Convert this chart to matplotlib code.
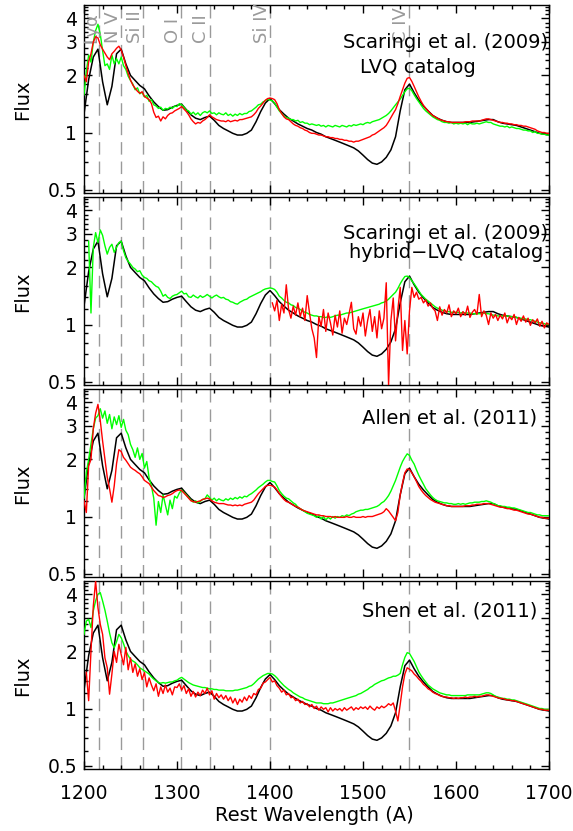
import numpy as np
import matplotlib
matplotlib.use("Agg")
import matplotlib.pyplot as plt
import matplotlib.transforms as mtransforms
from matplotlib.ticker import FixedLocator, FixedFormatter, NullFormatter

# wavelength grids (Angstrom)
wave = np.arange(1200, 1700.1, 2.5)
wave_bal = np.arange(1200, 1700.1, 5.0)

# reference BAL composite (black), same in every panel
bal_flux = [
    1.25, 1.90, 2.50, 2.75, 1.85, 1.40, 1.75, 2.60, 2.75, 2.30,
    2.00, 1.88, 1.77, 1.70, 1.56, 1.45, 1.37, 1.31, 1.32, 1.36,
    1.39, 1.41, 1.32, 1.24, 1.19, 1.17, 1.20, 1.22, 1.16, 1.09,
    1.05, 1.02, 0.99, 0.97, 0.97, 0.99, 1.03, 1.14, 1.29, 1.43,
    1.51, 1.42, 1.32, 1.25, 1.19, 1.15, 1.11, 1.08, 1.05, 1.03,
    1.00, 0.98, 0.95, 0.93, 0.91, 0.89, 0.87, 0.85, 0.83, 0.80,
    0.76, 0.72, 0.69, 0.68, 0.70, 0.74, 0.81, 0.95, 1.30, 1.68,
    1.80, 1.62, 1.48, 1.38, 1.30, 1.23, 1.19, 1.16, 1.14, 1.13,
    1.13, 1.13, 1.13, 1.13, 1.14, 1.15, 1.16, 1.17, 1.17, 1.14,
    1.12, 1.11, 1.10, 1.09, 1.07, 1.05, 1.03, 1.01, 0.99, 0.98,
    0.97,
]

nan = np.nan

# Scaringi et al. (2009) LVQ
green_lvq = [
    1.58, 2.10, 2.56, 2.35, 3.00, 3.45, 3.72, 3.30, 2.70, 2.25,
    2.30, 2.15, 2.56, 2.30, 2.45, 2.30, 2.50, 2.25, 2.15, 1.98,
    1.88, 1.80, 1.68, 1.72, 1.60, 1.63, 1.54, 1.57, 1.46, 1.49,
    1.40, 1.38, 1.34, 1.36, 1.31, 1.34, 1.33, 1.36, 1.34, 1.38,
    1.37, 1.42, 1.40, 1.36, 1.31, 1.30, 1.25, 1.28, 1.24, 1.27,
    1.23, 1.27, 1.29, 1.27, 1.30, 1.26, 1.27, 1.24, 1.27, 1.25,
    1.24, 1.27, 1.23, 1.25, 1.22, 1.25, 1.23, 1.26, 1.24, 1.26,
    1.26, 1.29, 1.30, 1.33, 1.36, 1.40, 1.41, 1.45, 1.47, 1.50,
    1.48, 1.47, 1.43, 1.36, 1.30, 1.26, 1.22, 1.20, 1.19, 1.17,
    1.17, 1.15, 1.16, 1.13, 1.14, 1.12, 1.12, 1.10, 1.11, 1.10,
    1.09, 1.10, 1.08, 1.09, 1.07, 1.09, 1.08, 1.07, 1.09, 1.08,
    1.07, 1.09, 1.08, 1.07, 1.09, 1.08, 1.10, 1.09, 1.10, 1.11,
    1.10, 1.12, 1.13, 1.12, 1.14, 1.15, 1.16, 1.17, 1.19, 1.21,
    1.23, 1.26, 1.30, 1.35, 1.40, 1.45, 1.50, 1.57, 1.64, 1.70,
    1.71, 1.66, 1.58, 1.51, 1.45, 1.39, 1.34, 1.30, 1.27, 1.24,
    1.21, 1.19, 1.17, 1.16, 1.14, 1.13, 1.13, 1.12, 1.13, 1.11,
    1.12, 1.11, 1.12, 1.11, 1.12, 1.10, 1.12, 1.11, 1.11, 1.12,
    1.11, 1.12, 1.13, 1.14, 1.13, 1.13, 1.11, 1.10, 1.09, 1.08,
    1.08, 1.07, 1.08, 1.06, 1.07, 1.06, 1.05, 1.05, 1.04, 1.03,
    1.03, 1.02, 1.02, 1.00, 1.01, 0.99, 0.99, 0.98, 0.98, 0.97,
    0.97,
]
red_lvq = [
    2.00, 1.85, 2.36, 2.60, 3.00, 3.20, 3.15, 2.90, 2.75, 2.62,
    2.50, 2.42, 2.60, 2.68, 2.78, 2.85, 2.72, 2.50, 2.25, 2.05,
    1.89, 1.78, 1.71, 1.65, 1.61, 1.64, 1.55, 1.52, 1.49, 1.42,
    1.28, 1.20, 1.22, 1.15, 1.21, 1.18, 1.23, 1.26, 1.27, 1.30,
    1.32, 1.34, 1.37, 1.33, 1.29, 1.24, 1.18, 1.14, 1.11, 1.13,
    1.12, 1.15, 1.17, 1.20, 1.24, 1.21, 1.19, 1.17, 1.16, 1.15,
    1.15, 1.14, 1.16, 1.14, 1.15, 1.16, 1.15, 1.17, 1.17, 1.18,
    1.19, 1.20, 1.21, 1.24, 1.28, 1.34, 1.38, 1.43, 1.48, 1.51,
    1.52, 1.51, 1.49, 1.42, 1.32, 1.26, 1.21, 1.18, 1.17, 1.14,
    1.11, 1.09, 1.08, 1.06, 1.05, 1.03, 1.02, 1.00, 0.99, 0.99,
    0.98, 0.97, 0.97, 0.96, 0.95, 0.95, 0.94, 0.94, 0.93, 0.93,
    0.92, 0.92, 0.91, 0.91, 0.90, 0.90, 0.89, 0.90, 0.90, 0.91,
    0.92, 0.93, 0.94, 0.95, 0.97, 0.98, 1.00, 1.02, 1.04, 1.06,
    1.09, 1.14, 1.20, 1.26, 1.32, 1.42, 1.55, 1.68, 1.82, 1.93,
    1.95, 1.86, 1.75, 1.64, 1.54, 1.46, 1.39, 1.34, 1.30, 1.26,
    1.23, 1.21, 1.19, 1.17, 1.16, 1.15, 1.14, 1.14, 1.13, 1.13,
    1.13, 1.13, 1.13, 1.13, 1.14, 1.14, 1.14, 1.15, 1.15, 1.15,
    1.15, 1.16, 1.17, 1.18, 1.18, 1.17, 1.16, 1.15, 1.14, 1.13,
    1.13, 1.12, 1.12, 1.11, 1.11, 1.10, 1.10, 1.09, 1.09, 1.08,
    1.08, 1.07, 1.06, 1.05, 1.04, 1.02, 1.01, 1.00, 1.00, 0.99,
    0.99,
]

# Scaringi et al. (2009) hybrid-LVQ
green_hybrid = [
    nan, nan, 2.75, 1.15, 2.55, 3.05, 2.70, 3.15, 2.95, 2.60,
    2.35, 2.55, 2.65, 2.40, 2.55, 2.70, 2.75, 2.45, 2.25, 2.15,
    2.08, 2.00, 1.96, 1.90, 1.92, 1.82, 1.77, 1.75, 1.70, 1.68,
    1.63, 1.59, 1.57, 1.50, 1.41, 1.44, 1.39, 1.37, 1.41, 1.43,
    1.44, 1.47, 1.50, 1.45, 1.46, 1.40, 1.39, 1.43, 1.40, 1.38,
    1.42, 1.39, 1.41, 1.44, 1.41, 1.38, 1.41, 1.43, 1.40, 1.38,
    1.39, 1.36, 1.35, 1.32, 1.31, 1.29, 1.28, 1.31, 1.33, 1.35,
    1.36, 1.39, 1.41, 1.43, 1.45, 1.47, 1.49, 1.52, 1.54, 1.55,
    1.56, 1.55, 1.53, 1.48, 1.41, 1.38, 1.34, 1.31, 1.30, 1.27,
    1.26, 1.23, 1.22, 1.20, 1.18, 1.16, 1.15, 1.13, 1.12, 1.11,
    1.11, 1.10, 1.10, 1.09, 1.09, 1.10, 1.09, 1.10, 1.11, 1.12,
    1.12, 1.13, 1.14, 1.15, 1.15, 1.16, 1.17, 1.18, 1.19, 1.20,
    1.21, 1.22, 1.23, 1.24, 1.25, 1.26, 1.27, 1.28, 1.30, 1.31,
    1.33, 1.36, 1.40, 1.44, 1.48, 1.55, 1.64, 1.72, 1.79, 1.80,
    1.77, 1.70, 1.64, 1.57, 1.50, 1.44, 1.40, 1.36, 1.33, 1.30,
    1.27, 1.24, 1.22, 1.21, 1.19, 1.18, 1.17, 1.17, 1.16, 1.16,
    1.16, 1.16, 1.15, 1.16, 1.15, 1.15, 1.15, 1.14, 1.14, 1.14,
    1.14, 1.14, 1.15, 1.14, 1.14, 1.13, 1.12, 1.12, 1.11, 1.11,
    1.11, 1.11, 1.11, 1.10, 1.10, 1.10, 1.09, 1.08, 1.08, 1.07,
    1.07, 1.06, 1.06, 1.05, 1.04, 1.03, 1.02, 1.02, 1.01, 1.00,
    1.00,
]
red_hybrid = [nan] * 81 + [
    1.30, 1.18, 1.34, 1.05, 1.28, 1.15, 1.62, 1.20, 1.08,
    1.25, 1.12, 1.30, 1.10, 1.22, 1.05, 1.42, 1.15, 0.95, 0.85,
    0.67, 1.10, 0.98, 1.20, 0.92, 1.15, 1.02, 0.88, 1.12, 0.97,
    1.18, 0.90, 1.08, 1.00, 1.14, 1.31, 0.95, 0.89, 1.10, 0.98,
    1.15, 0.87, 1.05, 1.20, 0.92, 1.10, 0.85, 1.18, 0.95, 1.08,
    1.66, 0.48, 1.05, 1.38, 0.82, 1.20, 1.57, 0.73, 1.05, 0.70,
    1.18, 1.57, 1.39, 1.48, 1.36, 1.39, 1.30, 1.35, 1.25, 1.30,
    1.22, 1.18, 1.05, 1.24, 1.12, 1.20, 1.15, 1.27, 1.10, 1.18,
    1.14, 1.22, 1.10, 1.17, 1.12, 1.25, 1.09, 1.16, 1.20, 1.13,
    1.44, 1.10, 1.18, 1.12, 1.00, 1.15, 1.08, 1.13, 1.05, 1.12,
    1.07, 1.15, 1.02, 1.10, 1.06, 1.13, 1.00, 1.09, 1.04, 1.11,
    1.03, 1.08, 0.99, 1.06, 1.02, 1.07, 0.98, 1.04, 0.96, 1.02,
    1.00,
]

# Allen et al. (2011)
green_allen = [
    1.25, 1.70, 2.00, 2.40, 2.90, 3.30, 3.40, 3.70, 3.30, 3.60,
    3.10, 3.45, 2.90, 3.35, 3.05, 3.40, 2.95, 3.25, 2.85, 2.70,
    2.40, 2.25, 2.05, 2.30, 2.00, 2.15, 1.80, 1.95, 1.60, 1.45,
    1.25, 0.90, 1.20, 1.05, 1.30, 1.15, 1.02, 1.22, 1.10, 1.28,
    1.25, 1.33, 1.38, 1.34, 1.30, 1.26, 1.22, 1.19, 1.21, 1.18,
    1.20, 1.23, 1.24, 1.30, 1.26, 1.22, 1.25, 1.21, 1.24, 1.22,
    1.21, 1.24, 1.22, 1.25, 1.23, 1.26, 1.24, 1.27, 1.25, 1.28,
    1.27, 1.30, 1.32, 1.35, 1.38, 1.42, 1.45, 1.48, 1.52, 1.55,
    1.55, 1.53, 1.52, 1.45, 1.37, 1.32, 1.28, 1.25, 1.24, 1.21,
    1.18, 1.16, 1.12, 1.10, 1.08, 1.06, 1.04, 1.03, 1.02, 1.01,
    0.99, 1.01, 0.97, 1.00, 0.96, 0.99, 0.97, 1.00, 0.98, 1.00,
    0.99, 1.01, 1.00, 1.02, 1.01, 1.03, 1.04, 1.06, 1.07, 1.08,
    1.08, 1.09, 1.09, 1.10, 1.11, 1.12, 1.13, 1.15, 1.18, 1.20,
    1.24, 1.29, 1.36, 1.45, 1.55, 1.68, 1.82, 1.95, 2.05, 2.14,
    2.10, 1.98, 1.89, 1.76, 1.65, 1.56, 1.48, 1.40, 1.35, 1.30,
    1.26, 1.23, 1.21, 1.20, 1.19, 1.18, 1.18, 1.17, 1.17, 1.16,
    1.16, 1.17, 1.16, 1.17, 1.16, 1.17, 1.18, 1.18, 1.19, 1.19,
    1.19, 1.20, 1.20, 1.21, 1.20, 1.19, 1.17, 1.16, 1.14, 1.14,
    1.13, 1.13, 1.12, 1.12, 1.11, 1.11, 1.10, 1.09, 1.08, 1.07,
    1.06, 1.05, 1.05, 1.04, 1.03, 1.02, 1.02, 1.01, 1.01, 1.01,
    1.01,
]
red_allen = [
    1.21, 1.05, 1.85, 2.00, 2.90, 3.50, 3.90, 3.20, 2.50, 2.00,
    1.61, 1.40, 1.19, 1.45, 1.90, 2.25, 2.20, 2.05, 1.98, 1.90,
    1.82, 1.78, 1.75, 1.71, 1.68, 1.62, 1.55, 1.52, 1.49, 1.43,
    1.37, 1.33, 1.29, 1.28, 1.26, 1.27, 1.29, 1.30, 1.32, 1.35,
    1.37, 1.38, 1.37, 1.33, 1.29, 1.25, 1.21, 1.20, 1.19, 1.20,
    1.21, 1.23, 1.24, 1.25, 1.24, 1.21, 1.19, 1.18, 1.17, 1.17,
    1.17, 1.16, 1.15, 1.15, 1.14, 1.15, 1.14, 1.15, 1.14, 1.16,
    1.17, 1.18, 1.19, 1.22, 1.27, 1.32, 1.36, 1.40, 1.44, 1.46,
    1.46, 1.45, 1.43, 1.38, 1.32, 1.27, 1.23, 1.20, 1.19, 1.17,
    1.15, 1.13, 1.12, 1.10, 1.08, 1.07, 1.06, 1.05, 1.04, 1.03,
    1.02, 1.02, 1.01, 1.01, 1.00, 1.00, 1.00, 0.99, 1.00, 0.99,
    0.99, 0.99, 0.99, 1.00, 0.99, 0.99, 1.00, 0.99, 0.99, 0.99,
    1.00, 0.99, 1.00, 1.00, 1.00, 1.01, 1.02, 1.03, 1.04, 1.06,
    1.10, 1.07, 1.03, 0.99, 0.95, 1.05, 1.30, 1.50, 1.70, 1.78,
    1.77, 1.70, 1.62, 1.53, 1.44, 1.38, 1.33, 1.29, 1.26, 1.23,
    1.21, 1.19, 1.18, 1.17, 1.16, 1.15, 1.14, 1.14, 1.13, 1.13,
    1.13, 1.13, 1.13, 1.13, 1.14, 1.14, 1.14, 1.15, 1.15, 1.16,
    1.16, 1.16, 1.17, 1.17, 1.17, 1.16, 1.15, 1.14, 1.13, 1.12,
    1.12, 1.11, 1.10, 1.10, 1.09, 1.08, 1.08, 1.07, 1.06, 1.05,
    1.04, 1.03, 1.03, 1.02, 1.01, 1.00, 0.99, 0.99, 0.98, 0.98,
    0.98,
]

# Shen et al. (2011)
green_shen = [
    2.46, 2.89, 2.95, 2.67, 3.27, 3.70, 4.00, 4.08, 3.69, 3.30,
    2.89, 2.50, 2.22, 2.09, 2.25, 2.46, 2.36, 2.20, 2.01, 1.90,
    1.82, 1.78, 1.75, 1.70, 1.64, 1.61, 1.58, 1.55, 1.52, 1.47,
    1.43, 1.40, 1.37, 1.36, 1.37, 1.36, 1.37, 1.38, 1.38, 1.40,
    1.41, 1.44, 1.46, 1.43, 1.40, 1.37, 1.35, 1.33, 1.32, 1.31,
    1.30, 1.29, 1.29, 1.28, 1.27, 1.27, 1.26, 1.26, 1.25, 1.25,
    1.25, 1.24, 1.24, 1.24, 1.24, 1.25, 1.25, 1.26, 1.27, 1.28,
    1.29, 1.31, 1.32, 1.35, 1.39, 1.43, 1.46, 1.49, 1.51, 1.53,
    1.53, 1.52, 1.49, 1.45, 1.40, 1.36, 1.32, 1.29, 1.26, 1.24,
    1.21, 1.19, 1.17, 1.15, 1.14, 1.12, 1.11, 1.10, 1.09, 1.08,
    1.07, 1.07, 1.07, 1.06, 1.06, 1.06, 1.07, 1.07, 1.08, 1.09,
    1.10, 1.11, 1.12, 1.13, 1.14, 1.15, 1.16, 1.17, 1.19, 1.20,
    1.22, 1.24, 1.26, 1.29, 1.31, 1.34, 1.36, 1.38, 1.40, 1.41,
    1.43, 1.45, 1.46, 1.48, 1.48, 1.50, 1.53, 1.70, 1.86, 1.97,
    1.95, 1.86, 1.77, 1.66, 1.56, 1.49, 1.43, 1.38, 1.33, 1.30,
    1.27, 1.25, 1.23, 1.21, 1.20, 1.19, 1.18, 1.18, 1.17, 1.17,
    1.17, 1.17, 1.17, 1.17, 1.17, 1.18, 1.18, 1.18, 1.18, 1.18,
    1.18, 1.19, 1.20, 1.21, 1.21, 1.20, 1.18, 1.16, 1.15, 1.14,
    1.13, 1.13, 1.12, 1.12, 1.11, 1.11, 1.10, 1.09, 1.08, 1.07,
    1.06, 1.05, 1.04, 1.03, 1.02, 1.01, 1.00, 1.00, 0.99, 0.99,
    0.99,
]
red_shen = [
    nan, 1.55, 1.10, 2.00, 3.47, 4.70, 3.40, 2.78, 2.46, 1.85,
    1.64, 1.19, 1.52, 2.00, 1.75, 2.18, 1.93, 1.70, 2.10, 1.60,
    1.85, 1.55, 1.72, 1.48, 1.62, 1.42, 1.55, 1.30, 1.45, 1.33,
    1.24, 1.35, 1.16, 1.30, 1.20, 1.33, 1.22, 1.28, 1.18, 1.30,
    1.29, 1.35, 1.25, 1.32, 1.20, 1.27, 1.16, 1.23, 1.15, 1.22,
    1.17, 1.25, 1.20, 1.28, 1.18, 1.24, 1.12, 1.20, 1.14, 1.18,
    1.12, 1.17, 1.10, 1.15, 1.07, 1.13, 1.05, 1.12, 1.08, 1.15,
    1.10, 1.17, 1.13, 1.20, 1.18, 1.26, 1.28, 1.36, 1.38, 1.42,
    1.46, 1.38, 1.40, 1.32, 1.28, 1.22, 1.25, 1.18, 1.20, 1.14,
    1.15, 1.10, 1.12, 1.07, 1.09, 1.05, 1.06, 1.02, 1.05, 1.00,
    1.03, 0.98, 1.02, 0.99, 1.01, 0.96, 1.01, 0.97, 1.00, 0.98,
    1.00, 0.97, 1.01, 0.98, 1.00, 1.02, 0.98, 1.01, 0.99, 1.02,
    1.00, 1.02, 0.99, 1.03, 1.00, 0.98, 1.02, 1.00, 1.03, 1.01,
    1.03, 1.06, 1.04, 1.07, 0.97, 0.86, 1.05, 1.30, 1.52, 1.64,
    1.61, 1.58, 1.52, 1.48, 1.43, 1.39, 1.34, 1.31, 1.27, 1.25,
    1.22, 1.20, 1.19, 1.17, 1.16, 1.15, 1.15, 1.14, 1.14, 1.13,
    1.14, 1.13, 1.14, 1.14, 1.15, 1.14, 1.15, 1.15, 1.16, 1.15,
    1.16, 1.16, 1.17, 1.18, 1.18, 1.17, 1.16, 1.15, 1.14, 1.13,
    1.13, 1.12, 1.11, 1.11, 1.10, 1.10, 1.09, 1.08, 1.07, 1.06,
    1.05, 1.04, 1.03, 1.02, 1.01, 1.00, 0.99, 0.99, 0.98, 0.98,
    0.98,
]

line_names = ["Ly\u03b1", "N V", "Si II", "O I", "C II", "Si IV", "C IV"]
line_waves = [1216, 1240, 1263, 1304, 1335, 1400, 1549]

y_ticks = [0.5, 1, 2, 3, 4]
y_tick_labels = ["0.5", "1", "2", "3", "4"]
y_minor = [0.6, 0.7, 0.8, 0.9, 1.2, 1.4, 1.6, 1.8, 2.2, 2.4, 2.6, 2.8,
           3.2, 3.4, 3.6, 3.8, 4.2, 4.4, 4.6]

panels = [
    (green_lvq, red_lvq),
    (green_hybrid, red_hybrid),
    (green_allen, red_allen),
    (green_shen, red_shen),
]

GREY = "#9a9a9a"
W, H = 573, 831
fig = plt.figure(figsize=(W / 100, H / 100), dpi=100)
tops = [5, 197, 389, 581]
axes = []
for i, (g, r) in enumerate(panels):
    ax = fig.add_axes([84 / W, 1 - (tops[i] + 188) / H, 465 / W, 188 / H])
    axes.append(ax)
    for lam in line_waves:
        ax.axvline(lam, color=GREY, lw=1.0, dashes=(9, 5), zorder=1)
    ax.plot(wave_bal, bal_flux, color="black", lw=1.1, zorder=2)
    ax.plot(wave, g, color="#00ff00", lw=1.0, zorder=3)
    ax.plot(wave, r, color="#ff0000", lw=1.0, zorder=4)
    ax.set_yscale("log")
    ax.set_xlim(1200, 1700)
    ax.set_ylim(0.48, 4.7)
    ax.yaxis.set_major_locator(FixedLocator(y_ticks))
    ax.yaxis.set_major_formatter(FixedFormatter(y_tick_labels))
    ax.yaxis.set_minor_locator(FixedLocator(y_minor))
    ax.yaxis.set_minor_formatter(NullFormatter())
    ax.xaxis.set_major_locator(FixedLocator([1200, 1300, 1400, 1500, 1600, 1700]))
    ax.xaxis.set_minor_locator(FixedLocator(list(range(1220, 1700, 20))))
    ax.tick_params(which="both", direction="in", top=True, right=True,
                   width=1.0, labelsize=13.5, colors="black")
    ax.tick_params(which="major", length=5.8)
    ax.tick_params(which="minor", length=2.9)
    ax.tick_params(axis="y", pad=5)
    ax.tick_params(axis="x", pad=11)
    if i < 3:
        ax.tick_params(labelbottom=False)
    for s in ax.spines.values():
        s.set_linewidth(1.0)
    ax.text(-0.133, 0.495, "Flux", rotation=90, ha="center", va="center",
            fontsize=14, transform=ax.transAxes)

# line identifications in the top panel
trans = mtransforms.blended_transform_factory(axes[0].transData, axes[0].transAxes)
for name, lam in zip(line_names, line_waves):
    axes[0].text(lam + 1, 0.80, name, rotation=90, ha="right", va="bottom",
                 color=GREY, fontsize=13, transform=trans, clip_on=False)

axes[0].text(0.998, 0.798, "Scaringi et al. (2009)", ha="right", va="center",
             fontsize=14, transform=axes[0].transAxes)
axes[0].text(0.717, 0.670, "LVQ catalog", ha="center", va="center",
             fontsize=14, transform=axes[0].transAxes)
axes[1].text(0.998, 0.805, "Scaringi et al. (2009)", ha="right", va="center",
             fontsize=14, transform=axes[1].transAxes)
axes[1].text(0.987, 0.707, "hybrid\u2212LVQ catalog", ha="right", va="center",
             fontsize=14, transform=axes[1].transAxes)
axes[2].text(0.974, 0.846, "Allen et al. (2011)", ha="right", va="center",
             fontsize=14, transform=axes[2].transAxes)
axes[3].text(0.974, 0.840, "Shen et al. (2011)", ha="right", va="center",
             fontsize=14, transform=axes[3].transAxes)

fig.text(0.548, 0.019, "Rest Wavelength (A)", ha="center", va="center", fontsize=14)

fig.savefig("out.png", dpi=100)
